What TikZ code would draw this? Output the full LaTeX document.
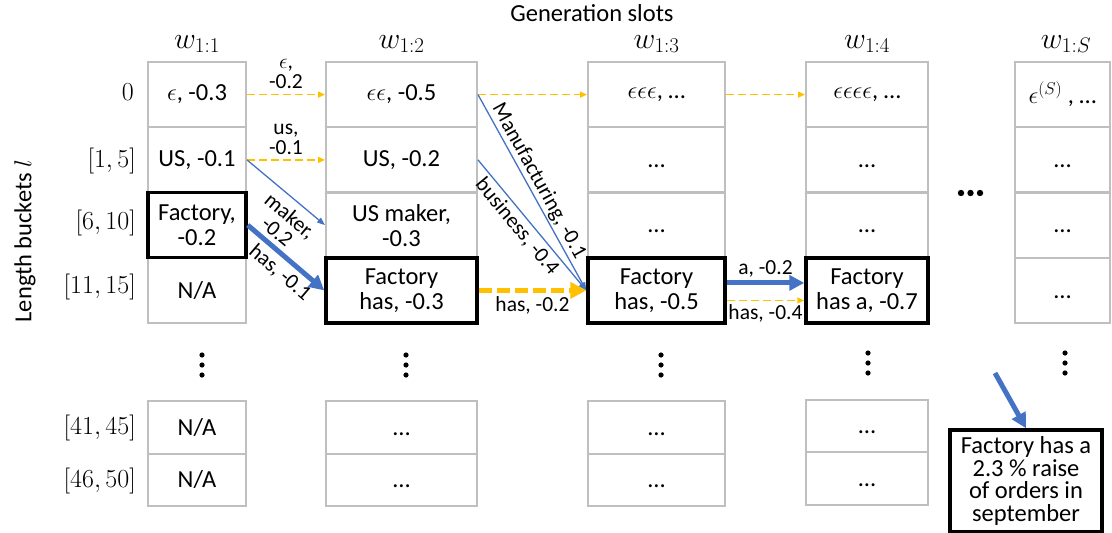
\RequirePackage{fix-cm}
\documentclass[tikz,border=0pt]{standalone}
\usepackage{fontspec}
\setmainfont{Carlito}
\usetikzlibrary{arrows.meta}

\definecolor{slotgray}{HTML}{BFBFBF}
\definecolor{beamblue}{HTML}{4472C4}
\definecolor{beamgold}{HTML}{FFC000}

\newcommand\cellfont{\fontsize{24.5}{25}\selectfont}
\newcommand\edgefont{\fontsize{21.5}{20}\selectfont}
\newcommand\headfont{\fontsize{30}{30}\selectfont}
\newcommand\rowfont{\fontsize{26}{26}\selectfont}
\newcommand\elp{\vphantom{A}…}

\begin{document}
\begin{tikzpicture}[x=1pt,y=-1pt,
  cell/.style={draw=slotgray, line width=2pt, inner sep=0pt, align=center, font=\cellfont},
  pick/.style={draw=black, line width=3.5pt, inner sep=0pt, align=center, font=\cellfont},
  wA/.style={minimum width=98pt}, wB/.style={minimum width=151pt},
  wC/.style={minimum width=137pt}, wD/.style={minimum width=122pt},
  wE/.style={minimum width=95pt},
  tall/.style={minimum height=65.25pt}, short/.style={minimum height=52.5pt},
  lbl/.style={font=\edgefont, inner sep=3pt, align=center},
  thinblue/.style={draw=beamblue, line width=1.3pt, -{Triangle[length=8pt,width=6pt]}},
  thickblue/.style={draw=beamblue, line width=5pt, -{Triangle[length=15pt,width=15pt]}},
  thingold/.style={draw=beamgold, line width=1.5pt, dash pattern=on 8pt off 4pt, -{Triangle[length=7pt,width=6pt]}},
  thickgold/.style={draw=beamgold, line width=5pt, dash pattern=on 13pt off 5pt, -{Triangle[length=16pt,width=16pt]}},
  rowlbl/.style={anchor=east, font=\rowfont, inner sep=0pt},
  head/.style={anchor=base, font=\headfont, inner sep=0pt},
  dotmark/.style={fill=black}
]
\useasboundingbox (0,0) rectangle (1112,533);

% titles
\node[font=\cellfont, inner sep=0pt] (title) at (592,13) {Generation slots};
\node[font=\cellfont, rotate=90, inner sep=0pt] (yaxis) at (25,241) {Length buckets $l$};

\node[head] (hA) at (197,48) {$w_{1:1}$};
\node[head] (hB) at (401.5,48) {$w_{1:2}$};
\node[head] (hC) at (656.5,48) {$w_{1:3}$};
\node[head] (hD) at (867,48) {$w_{1:4}$};
\node[head] (hE) at (1066,48) {$w_{1:S}$};

% row labels
\node[rowlbl] (r0) at (134,92) {$0$};
\node[rowlbl] (r1) at (136,161) {$[1,5]$};
\node[rowlbl] (r2) at (136,223) {$[6,10]$};
\node[rowlbl] (r3) at (136,287) {$[11,15]$};
\node[rowlbl] (r8) at (136,428) {$[41,45]$};
\node[rowlbl] (r9) at (136,481) {$[46,50]$};

% slot 1
\node[cell,wA,tall] (a0) at (197,94.6) {$\epsilon$, -0.3};
\node[cell,wA,tall] (a1) at (197,159.9) {US, -0.1};
\node[cell,wA,tall] (a3) at (197,290.4) {N/A};
\node[cell,wA,short] (a8) at (197,427.5) {N/A};
\node[cell,wA,short] (a9) at (197,480) {N/A};
% slot 2
\node[cell,wB,tall] (b0) at (401.5,94.6) {$\epsilon\epsilon$, -0.5};
\node[cell,wB,tall] (b1) at (401.5,159.9) {US, -0.2};
\node[cell,wB,tall] (b2) at (401.5,225.1) {US maker,\\-0.3};
\node[cell,wB,short] (b8) at (401.5,427.5) {\elp};
\node[cell,wB,short] (b9) at (401.5,480) {\elp};
% slot 3
\node[cell,wC,tall] (c0) at (656.5,94.6) {$\epsilon\epsilon\epsilon$, …};
\node[cell,wC,tall] (c1) at (656.5,159.9) {\elp};
\node[cell,wC,tall] (c2) at (656.5,225.1) {\elp};
\node[cell,wC,short] (c8) at (656.5,427.5) {\elp};
\node[cell,wC,short] (c9) at (656.5,480) {\elp};
% slot 4
\node[cell,wD,tall] (d0) at (867,94.6) {$\epsilon\epsilon\epsilon\epsilon$, …};
\node[cell,wD,tall] (d1) at (867,159.9) {\elp};
\node[cell,wD,tall] (d2) at (867,225.1) {\elp};
\node[cell,wD,short] (d8) at (867,426) {\elp};
\node[cell,wD,short] (d9) at (867,478.5) {\elp};
% slot S
\node[cell,wE,tall] (e0) at (1062.5,94.6) {\raisebox{4pt}{$\epsilon^{(S)}$ , …}};
\node[cell,wE,tall] (e1) at (1062.5,159.9) {\elp};
\node[cell,wE,tall] (e2) at (1062.5,225.1) {\elp};
\node[cell,wE,tall] (e3) at (1062.5,290.4) {\elp};

% kept hypotheses
\node[pick,wA,tall] (a2) at (197,225.1) {Factory,\\-0.2};
\node[pick,wB,tall] (b3) at (401.5,290.4) {Factory\\has, -0.3};
\node[pick,wC,tall] (c3) at (656.5,290.4) {Factory\\has, -0.5};
\node[pick,wD,tall] (d3) at (867,290.4) {Factory\\has a, -0.7};

% final output
\node[pick, minimum width=152pt, minimum height=102pt, font=\fontsize{24.5}{22.7}\selectfont] (out) at (1026,481)
  {Factory has a\\2.3 \% raise\\of orders in\\september};

% vertical ellipses
\foreach \x/\y in {202/355, 406/355, 661/355, 868/353, 1065/353}
  \foreach \k in {0,10,20}
    \fill[dotmark] (\x,\y+\k) circle (2.6pt);
% skipped slots
\foreach \x in {961,970.5,980}
  \fill[dotmark] (\x,193) circle (3.2pt);

% transitions
\draw[thingold] (a0.east) -- node[lbl, above, inner sep=5pt] {$\epsilon$,\\-0.2} (b0.west);
\draw[thingold] (a1.east) -- node[lbl, above, inner sep=4pt] {us,\\-0.1} (b1.west);
\draw[thinblue] (a1.east) -- node[lbl, pos=0.68, below, sloped, inner sep=7pt] {maker,\\-0.2} (b2.west);
\draw[thickblue] (a2.east) -- node[lbl, pos=0.55, below, sloped, inner sep=4pt] {has, -0.1} (b3.west);

\draw[thingold] (b0.east) -- (c0.west);
\draw[thinblue] (b0.east) -- node[lbl, pos=0.47, above, sloped, inner sep=1.5pt] {Manufacturing, -0.1} (c3.west);
\draw[thinblue] (b1.east) -- node[lbl, pos=0.45, below, sloped, inner sep=3pt] {business, -0.4} (c3.west);
\draw[thickgold] (b3.east) -- node[lbl, below, inner sep=4pt] {has, -0.2} (c3.west);

\draw[thingold] (c0.east) -- (d0.west);
\draw[thickblue] ([yshift=7.5pt]c3.east) -- node[lbl, above, inner sep=3pt] {a, -0.2} ([yshift=7.5pt]d3.west);
\draw[thingold] ([yshift=-10pt]c3.east) -- node[lbl, below, inner sep=3pt] {has, -0.4} ([yshift=-10pt]d3.west);

\coordinate (ptr) at (995,373);
\draw[thickblue] (ptr) -- (out.north);
\end{tikzpicture}
\end{document}
